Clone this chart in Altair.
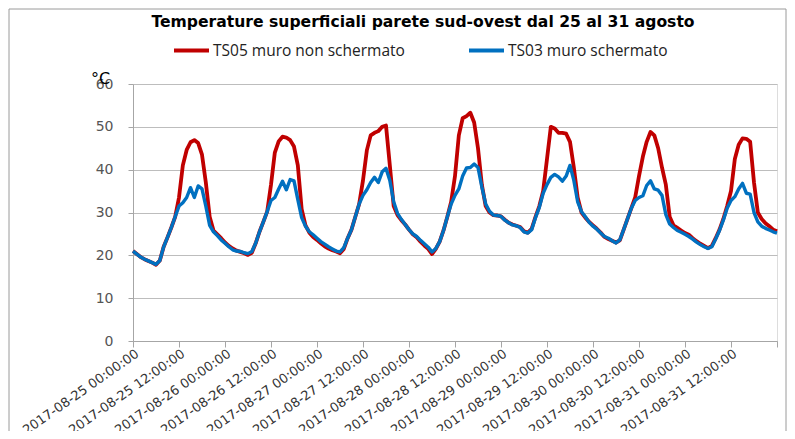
import json
import altair as alt
import pandas as pd

# hourly samples, 2017-08-25 00:00 -> 2017-09-01 00:00
hours = list(range(169))

ts05 = [
    21.0, 20.3, 19.6, 19.1, 18.7, 18.3, 17.8, 18.8, 22.0, 24.2, 26.5, 29.0,
    33.5, 41.0, 44.6, 46.4, 46.9, 46.2, 43.5, 37.0, 29.0, 25.8, 24.9, 24.0,
    23.0, 22.2, 21.6, 21.1, 20.8, 20.5, 20.1, 20.6, 22.8, 25.5, 27.8, 30.2,
    36.5, 44.0, 46.6, 47.7, 47.5, 46.9, 45.4, 41.0, 30.8, 27.0, 25.3, 24.3,
    23.6, 22.8, 22.1, 21.6, 21.2, 20.9, 20.5, 21.5, 24.0, 26.0, 29.0, 32.0,
    37.5, 44.5, 48.0, 48.6, 49.0, 50.0, 50.3, 41.0, 31.5, 29.4, 28.2, 27.2,
    26.0, 24.9, 24.2, 23.2, 22.3, 21.5, 20.3, 21.5, 23.2, 25.8, 29.0, 32.5,
    38.5, 48.0, 52.0, 52.5, 53.3, 51.0, 45.0, 36.5, 31.5, 30.0, 29.4, 29.3,
    29.1, 28.3, 27.6, 27.2, 26.9, 26.6, 25.6, 25.3, 26.2, 29.0, 31.5, 35.0,
    42.5, 50.0, 49.6, 48.6, 48.6, 48.4, 46.5, 40.5, 33.5, 30.0, 28.8, 27.8,
    27.0, 26.2, 25.3, 24.3, 23.8, 23.4, 23.0, 23.5, 26.0, 28.5, 31.0, 33.5,
    38.5, 43.0, 46.5, 48.8, 48.0, 45.0, 40.5, 36.5, 29.0, 27.0, 26.4, 25.8,
    25.2, 24.8, 24.0, 23.3, 22.7, 22.2, 21.7, 22.2, 24.0, 26.0, 28.5, 31.5,
    35.0, 42.5, 45.8, 47.3, 47.2, 46.5, 37.0, 30.0, 28.5, 27.5, 26.8, 26.0,
    25.6,
]

ts03 = [
    21.0, 20.3, 19.6, 19.1, 18.7, 18.3, 17.9, 18.8, 22.0, 24.2, 26.5, 29.0,
    31.5, 32.3, 33.5, 35.8, 33.5, 36.2, 35.5, 31.5, 27.0, 25.5, 24.6, 23.6,
    22.8, 22.0, 21.3, 21.0, 20.9, 20.6, 20.4, 20.9, 22.8, 25.5, 27.8, 30.2,
    32.8, 33.5, 35.5, 37.3, 35.3, 37.7, 37.4, 33.0, 28.8, 26.8, 25.5, 24.8,
    24.0, 23.2, 22.6, 22.0, 21.5, 21.0, 20.8, 21.8, 24.0, 26.0, 29.0, 32.0,
    34.0, 35.3, 37.0, 38.2, 37.0, 39.5, 40.3, 37.5, 32.5, 29.8, 28.4, 27.2,
    26.0, 25.0, 24.4, 23.5, 22.7, 21.9, 20.8, 21.6, 23.2, 25.8, 29.0, 32.0,
    34.0, 35.5, 38.5, 40.4, 40.5, 41.3, 40.5, 36.0, 32.0, 30.3, 29.4, 29.3,
    29.1, 28.2, 27.6, 27.1, 26.9, 26.5, 25.5, 25.2, 26.0, 28.8, 31.2, 34.5,
    36.5, 38.2, 38.9, 38.3, 37.3, 38.5, 41.0, 37.5, 32.5, 30.2, 29.0, 27.7,
    26.8, 26.1, 25.2, 24.4, 24.0, 23.4, 22.9, 23.6, 26.0, 28.5, 31.0, 32.8,
    33.5, 33.9, 36.3, 37.4, 35.5, 35.2, 34.0, 29.5, 27.3, 26.5, 25.8, 25.4,
    24.9, 24.4, 23.8, 23.1, 22.5, 22.0, 21.6, 22.0, 23.8, 25.8, 28.2, 31.0,
    32.8, 33.7, 35.5, 36.8, 34.5, 34.3, 30.0, 27.8, 26.8, 26.3, 25.9, 25.5,
    25.2,
]

tick_hours = [0, 12, 24, 36, 48, 60, 72, 84, 96, 108, 120, 132, 144, 156, 168]
tick_labels = [
    "2017-08-25 00:00:00", "2017-08-25 12:00:00",
    "2017-08-26 00:00:00", "2017-08-26 12:00:00",
    "2017-08-27 00:00:00", "2017-08-27 12:00:00",
    "2017-08-28 00:00:00", "2017-08-28 12:00:00",
    "2017-08-29 00:00:00", "2017-08-29 12:00:00",
    "2017-08-30 00:00:00", "2017-08-30 12:00:00",
    "2017-08-31 00:00:00", "2017-08-31 12:00:00",
    "",
]
y_ticks = [0, 10, 20, 30, 40, 50, 60]
series_names = ["TS05 muro non schermato", "TS03 muro schermato"]
series_colors = ["#C00000", "#0070C0"]
title_text = "Temperature superficiali parete sud-ovest dal 25 al 31 agosto"

n = len(hours)
df = pd.DataFrame({
    "ora": hours + hours,
    "temp": ts05 + ts03,
    "serie": [series_names[0]] * n + [series_names[1]] * n,
})

label_expr = json.dumps(tick_labels) + "[round(datum.value / 12)]"

x_enc = alt.X(
    "ora:Q",
    scale=alt.Scale(domain=[0, 168], nice=False, zero=False),
    axis=alt.Axis(
        values=tick_hours, labelExpr=label_expr, labelAngle=-35,
        labelAlign="right", labelBaseline="middle", labelPadding=5,
        labelOffset=4, labelOverlap=False, labelFlush=False, grid=False,
        title=None, labelFont="DejaVu Sans", labelFontSize=13,
        labelColor="#333333", domainColor="#a6a6a6", tickColor="#a6a6a6",
        tickSize=6,
    ),
)
y_enc = alt.Y(
    "temp:Q",
    scale=alt.Scale(domain=[0, 60], nice=False),
    axis=alt.Axis(
        values=y_ticks, title="°C", titleAngle=0, titleX=-33, titleY=-6,
        titleAlign="center", titleBaseline="middle", titleFont="DejaVu Sans",
        titleFontSize=16, titleFontWeight="normal", titleColor="#000000",
        labelFont="DejaVu Sans", labelFontSize=14, labelColor="#555555",
        labelPadding=15, gridColor="#bdbdbd", domainColor="#a6a6a6",
        tickColor="#a6a6a6", tickSize=5,
    ),
)
color_enc = alt.Color(
    "serie:N",
    scale=alt.Scale(domain=series_names, range=series_colors),
    legend=alt.Legend(
        title=None, orient="none", legendX=39, legendY=-53,
        direction="horizontal", symbolType="stroke", symbolSize=1225,
        symbolStrokeWidth=3.8, labelFont="Open Sans", labelFontSize=15.5,
        labelColor="#222222", labelOffset=2, columnPadding=56,
        labelLimit=400,
    ),
)

red = alt.Chart(df).mark_line(strokeWidth=3.8, strokeJoin="round").encode(
    x=x_enc, y=y_enc, color=color_enc
).transform_filter(alt.datum.serie == series_names[0])
blue = alt.Chart(df).mark_line(strokeWidth=3.4, strokeJoin="round").encode(
    x=x_enc, y=y_enc, color=color_enc
).transform_filter(alt.datum.serie == series_names[1])

border = alt.Chart(pd.DataFrame({"k": [0]})).mark_rect(
    fill=None, stroke="#9a9a9a", strokeWidth=1
).encode(
    x=alt.value(-124), x2=alt.value(653), y=alt.value(-75), y2=alt.value(420)
)

chart = alt.layer(border, red, blue).properties(
    width=644,
    height=257,
    autosize=alt.AutoSizeParams(type="none"),
    padding={"left": 125, "top": 76, "right": 10, "bottom": 90},
    title=alt.TitleParams(
        title_text, font="DejaVu Sans", fontSize=15.6, fontWeight="bold",
        color="#000000", anchor="middle", dx=-32, offset=-22,
    ),
).configure_view(stroke=None).configure(background="white")

chart.save("out.html", embed_options={"renderer": "svg", "actions": False})
